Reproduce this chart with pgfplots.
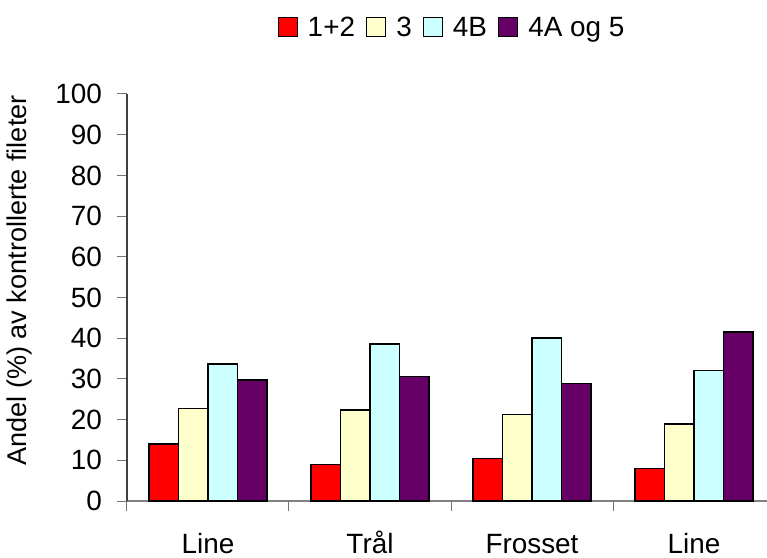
\documentclass[border=0pt]{standalone}
\usepackage{fontspec}
\setmainfont{Liberation Sans}
\usepackage{pgfplots}
\pgfplotsset{compat=1.18}
\definecolor{c1}{HTML}{FF0000}
\definecolor{c2}{HTML}{FFFFCC}
\definecolor{c3}{HTML}{CCFFFF}
\definecolor{c4}{HTML}{660066}
\pgfplotsset{mylegend/.style={legend image code/.code={\draw[##1,line width=1.2bp] (0bp,-9.5bp) rectangle (19bp,9.5bp);}}}
\begin{document}
\begin{tikzpicture}
\begin{axis}[
  scale only axis, width=648bp, height=407bp,
  xmin=-0.5, xmax=3.5, ymin=0, ymax=100,
  axis lines*=left,
  ybar=0pt, bar width=29.5bp,
  font=\fontsize{28}{33}\selectfont,
  /pgf/number format/assume math mode=true,
  ytick={0,10,...,100},
  xtick={-0.5,0.5,1.5,2.5,3.5}, xticklabels={},
  extra x ticks={0,1,2,3},
  extra x tick labels={Line,Trål,Frosset,Line},
  extra x tick style={major tick length=0pt, xticklabel style={text height=20bp, text depth=6bp, inner sep=0pt, anchor=north, yshift=-32bp}},
  tick align=outside, major tick length=10bp,
  tick style={black!55, line width=1bp},
  x axis line style={black!50, line width=1.5bp},
  y axis line style={black!75, line width=1.5bp},
  yticklabel style={inner sep=0pt, anchor=east, xshift=-15bp},
  every axis y label/.style={at={(axis description cs:0,0.5)}, xshift=-108bp, yshift=17bp, rotate=90, anchor=center, font=\fontsize{27.2}{32}\selectfont},
  ylabel={Andel (\%) av kontrollerte fileter},
  legend columns=-1,
  legend style={draw=none, fill=none, at={(0.5,1)}, anchor=center, yshift=67bp,
    font=\fontsize{28}{33}\selectfont,
    /tikz/every odd column/.append style={column sep=10bp},
    /tikz/every even column/.append style={column sep=11bp},
    nodes={inner sep=0pt, text height=20bp, text depth=0bp}},
]
\addplot[fill=c1, draw=black, line width=1.4bp, mylegend] coordinates {(0,14) (1,9) (2,10.5) (3,8)};
\addplot[fill=c2, draw=black, line width=1.4bp, mylegend] coordinates {(0,22.8) (1,22.4) (2,21.3) (3,18.9)};
\addplot[fill=c3, draw=black, line width=1.4bp, mylegend] coordinates {(0,33.7) (1,38.6) (2,40.0) (3,32.1)};
\addplot[fill=c4, draw=black, line width=1.4bp, mylegend] coordinates {(0,29.7) (1,30.6) (2,28.8) (3,41.5)};
\legend{1+2,3,4B,4A og 5}
\end{axis}
\pgfresetboundingbox
\useasboundingbox (current axis.south west) ++(-127bp,-57bp) rectangle ++(767bp,558bp);
\end{tikzpicture}
\end{document}
